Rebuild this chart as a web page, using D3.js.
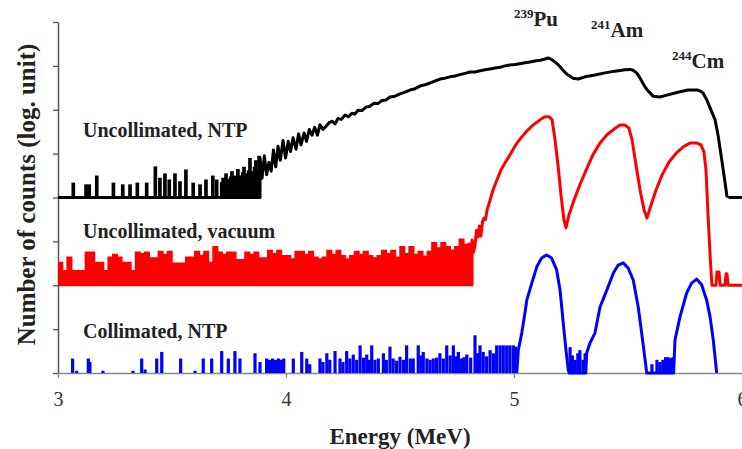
<!DOCTYPE html>
<html><head><meta charset="utf-8">
<script src="https://cdn.jsdelivr.net/npm/d3@7"></script>
<style>body{margin:0;background:#fff}svg{display:block}</style>
</head><body>
<svg id="c" width="742" height="449"></svg>
<script>
// ---------------- data ----------------
const xTicks = [3, 4, 5, 6];
const yTicks = [0, 1, 2, 3, 4, 5, 6, 7, 8];
const seriesNames = ["Uncollimated, NTP", "Uncollimated, vacuum", "Collimated, NTP"];
const seriesColors = ["#000000", "#ff0000", "#0000ff"];
const baselines = [4, 2, 0];
const isotopeSymbols = ["Pu", "Am", "Cm"];
const isotopeMass = ["239", "241", "244"];
const isotopeLabelE = [5.0, 5.338, 5.693];
const isotopeLabelV = [7.91, 7.66, 6.95];

// Uncollimated, NTP : background spikes [energy MeV, height above baseline]
const ntpNoise = [[3.067,0.34],[3.123,0.30],[3.137,0.30],[3.170,0.50],[3.243,0.34],[3.284,0.30],[3.316,0.30],[3.348,0.34],[3.389,0.34],[3.427,0.71],[3.447,0.45],[3.469,0.55],[3.488,0.41],[3.513,0.55],[3.535,0.37],[3.561,0.64],[3.593,0.34],[3.623,0.30],[3.649,0.41],[3.679,0.50],[3.696,0.41],[3.718,0.35],[3.724,0.45],[3.731,0.30],[3.737,0.55],[3.744,0.42],[3.750,0.40],[3.757,0.48],[3.763,0.60],[3.770,0.38],[3.776,0.50],[3.783,0.44],[3.789,0.65],[3.796,0.50],[3.803,0.45],[3.810,0.58],[3.816,0.70],[3.822,0.48],[3.829,0.55],[3.836,0.62],[3.842,0.90],[3.849,0.52],[3.855,0.60],[3.862,0.70],[3.868,0.85],[3.875,0.60],[3.882,0.95]];
// Uncollimated, NTP : spectrum [energy, counts (log units)]
const ntpSignal = [[3.0,4.0],[3.886,4.0],[3.886,4.90],[3.895,4.44],[3.905,4.95],[3.915,4.52],[3.925,4.80],[3.935,4.60],[3.945,5.08],[3.955,4.70],[3.965,5.17],[3.975,4.85],[3.987,5.30],[3.998,4.90],[4.010,5.28],[4.020,5.05],[4.031,5.36],[4.044,5.10],[4.055,5.45],[4.066,5.20],[4.079,5.47],[4.090,5.28],[4.102,5.55],[4.114,5.42],[4.126,5.60],[4.138,5.42],[4.149,5.66],[4.162,5.55],[4.175,5.62],[4.188,5.70],[4.202,5.74],[4.215,5.68],[4.228,5.80],[4.243,5.78],[4.259,5.88],[4.274,5.84],[4.289,5.92],[4.302,5.90],[4.316,5.99],[4.333,5.98],[4.351,6.06],[4.368,6.08],[4.386,6.15],[4.403,6.14],[4.421,6.21],[4.438,6.22],[4.456,6.29],[4.478,6.31],[4.500,6.36],[4.522,6.40],[4.544,6.45],[4.566,6.48],[4.588,6.54],[4.610,6.57],[4.632,6.61],[4.655,6.66],[4.675,6.70],[4.697,6.72],[4.719,6.75],[4.741,6.77],[4.763,6.80],[4.785,6.83],[4.807,6.86],[4.829,6.86],[4.851,6.89],[4.873,6.91],[4.895,6.93],[4.917,6.95],[4.939,6.97],[4.960,7.00],[4.982,7.02],[5.004,7.03],[5.026,7.05],[5.048,7.07],[5.070,7.09],[5.092,7.11],[5.114,7.13],[5.132,7.15],[5.149,7.18],[5.160,7.16],[5.171,7.12],[5.182,7.08],[5.193,7.03],[5.204,6.97],[5.215,6.90],[5.226,6.84],[5.237,6.79],[5.259,6.72],[5.281,6.70],[5.311,6.75],[5.355,6.79],[5.399,6.84],[5.443,6.88],[5.487,6.91],[5.510,6.92],[5.522,6.90],[5.533,6.86],[5.544,6.80],[5.555,6.70],[5.566,6.60],[5.577,6.50],[5.588,6.43],[5.610,6.31],[5.640,6.29],[5.675,6.34],[5.719,6.40],[5.763,6.45],[5.803,6.45],[5.820,6.42],[5.829,6.38],[5.846,6.22],[5.864,5.99],[5.882,5.77],[5.895,5.42],[5.908,4.97],[5.921,4.51],[5.934,4.03],[5.947,4.0],[6.0,4.0]];

// Uncollimated, vacuum : background heights, channels of 0.02 MeV from 3.00 MeV
const vacNoiseStart = 3.0;
const vacNoiseStep = 0.02;
const vacNoise = [0.52,0.33,0.64,0.33,0.33,0.33,0.75,0.75,0.52,0.52,
 0.33,0.64,0.70,0.64,0.52,0.52,0.33,0.75,0.72,0.75,
 0.62,0.62,0.77,0.70,0.77,0.50,0.50,0.50,0.64,0.64,
 0.77,0.68,0.77,0.52,0.88,0.75,0.70,0.75,0.75,0.58,
 0.58,0.75,0.70,0.75,0.62,0.62,0.79,0.72,0.79,0.67,
 0.67,0.60,0.77,0.77,0.70,0.77,0.64,0.60,0.64,0.79,
 0.70,0.79,0.67,0.60,0.67,0.77,0.70,0.77,0.67,0.62,
 0.67,0.79,0.72,0.79,0.64,0.88,0.72,0.88,0.70,0.77,
 0.66,0.77,0.97,0.85,0.97,0.88,0.80,0.88,1.05,0.93,
 0.95];
const vacSignal = [[4.816,2.0],[4.816,3.03],[4.822,2.75],[4.829,2.90],[4.835,3.25],[4.842,3.10],[4.848,3.35],[4.855,3.12],[4.862,3.45],[4.868,3.53],[4.875,3.50],[4.882,3.72],[4.895,3.94],[4.908,4.17],[4.925,4.40],[4.943,4.63],[4.961,4.79],[4.982,4.97],[5.004,5.17],[5.026,5.33],[5.057,5.52],[5.083,5.65],[5.114,5.77],[5.136,5.84],[5.154,5.84],[5.167,5.77],[5.180,5.31],[5.193,4.74],[5.206,4.06],[5.219,3.49],[5.228,3.31],[5.241,3.60],[5.263,3.94],[5.289,4.29],[5.320,4.67],[5.346,4.97],[5.377,5.24],[5.408,5.43],[5.439,5.56],[5.465,5.65],[5.487,5.65],[5.504,5.58],[5.518,5.31],[5.535,4.74],[5.553,4.17],[5.570,3.72],[5.583,3.53],[5.601,3.83],[5.623,4.17],[5.649,4.51],[5.680,4.81],[5.711,5.01],[5.741,5.15],[5.772,5.24],[5.803,5.24],[5.820,5.20],[5.833,5.04],[5.842,4.63],[5.851,3.60],[5.860,2.69],[5.868,2.0],[5.886,2.0],[5.890,2.30],[5.899,2.30],[5.904,2.0],[5.925,2.0],[5.930,2.26],[5.934,2.26],[5.939,2.0],[6.0,2.0]];

// Collimated, NTP : background spikes [energy, height]
const colNoise = [[3.064,0.33],[3.082,0.05],[3.133,0.33],[3.140,0.25],[3.197,0.05],[3.329,0.05],[3.367,0.33],[3.382,0.08],[3.433,0.33],[3.455,0.48],[3.538,0.33],[3.601,0.05],[3.637,0.33],[3.674,0.33],[3.718,0.50],[3.747,0.33],[3.776,0.50],[3.798,0.33],[3.864,0.45],[3.886,0.25],[3.915,0.33],[3.928,0.30],[3.941,0.33],[3.954,0.30],[3.967,0.33],[3.980,0.30],[3.990,0.33],[4.032,0.33],[4.069,0.48],[4.091,0.33],[4.104,0.20],[4.149,0.33],[4.162,0.25],[4.179,0.45],[4.192,0.30],[4.215,0.50],[4.237,0.33],[4.250,0.25],[4.266,0.50],[4.280,0.33],[4.295,0.42],[4.310,0.30],[4.325,0.63],[4.340,0.35],[4.354,0.42],[4.365,0.30],[4.376,0.63],[4.390,0.30],[4.405,0.33],[4.427,0.45],[4.440,0.30],[4.456,0.60],[4.470,0.33],[4.485,0.28],[4.500,0.37],[4.515,0.30],[4.529,0.63],[4.545,0.33],[4.558,0.33],[4.580,0.63],[4.592,0.40],[4.602,0.48],[4.618,0.33],[4.632,0.30],[4.646,0.33],[4.660,0.35],[4.675,0.45],[4.690,0.33],[4.705,0.63],[4.720,0.40],[4.734,0.63],[4.745,0.38],[4.756,0.48],[4.770,0.33],[4.781,0.36],[4.793,0.42],[4.810,0.35],[4.829,0.86],[4.840,0.45],[4.851,0.63],[4.865,0.48],[4.880,0.38],[4.895,0.52],[4.910,0.45],[4.924,0.63],[4.939,0.63],[4.953,0.63],[4.968,0.63],[4.982,0.63],[4.997,0.63],[5.008,0.60],
 [5.246,0.59],[5.256,0.40],[5.268,0.30],[5.280,0.45],[5.289,0.52],[5.303,0.30],[5.312,0.45],
 [5.605,0.20],[5.627,0.30],[5.640,0.25],[5.653,0.30],[5.665,0.36],[5.676,0.36],[5.687,0.34],[5.697,0.36]];
const colSignal = [[5.012,0.0],[5.019,0.52],[5.034,0.91],[5.048,1.37],[5.056,1.66],[5.078,2.05],[5.100,2.42],[5.121,2.62],[5.143,2.69],[5.165,2.62],[5.187,2.35],[5.202,1.89],[5.216,1.14],[5.228,0.52],[5.238,0.07],[5.242,0.0],[5.315,0.0],[5.319,0.46],[5.333,0.68],[5.355,0.91],[5.377,1.50],[5.407,1.89],[5.436,2.28],[5.457,2.46],[5.479,2.51],[5.501,2.39],[5.523,2.12],[5.545,1.50],[5.560,0.91],[5.575,0.30],[5.582,0.0],[5.700,0.0],[5.706,0.75],[5.728,1.28],[5.757,1.82],[5.779,2.05],[5.801,2.14],[5.823,2.01],[5.845,1.66],[5.860,1.28],[5.874,0.75],[5.889,0.0]];

// ---------------- drawing ----------------
const svg = d3.select("#c");
const serif = "'Liberation Serif','Times New Roman',Times,serif";
const x = d3.scaleLinear().domain([3, 6]).range([58, 742]);
const y = d3.scaleLinear().domain([0, 8]).range([373, 22]);

// axes
const gy = svg.append("g").attr("transform", `translate(${x(3)},0)`)
  .call(d3.axisLeft(y).tickValues(yTicks).tickSize(5).tickSizeOuter(0).tickFormat(""));
gy.select(".domain").attr("stroke", "#555").attr("stroke-width", 1.5);
gy.selectAll(".tick line").attr("stroke", "#555").attr("stroke-width", 1.3);

const gx = svg.append("g").attr("transform", `translate(0,${y(0)})`)
  .attr("font-family", serif)
  .call(d3.axisBottom(x).tickValues(xTicks).tickSize(5).tickSizeOuter(0).tickPadding(14).tickFormat(d3.format("d")));
gx.attr("font-family", serif);
gx.select(".domain").attr("stroke", "#888").attr("stroke-width", 1.3);
gx.selectAll(".tick line").attr("stroke", "#888").attr("stroke-width", 1.3);
gx.selectAll(".tick text").style("font-family", serif).attr("font-size", 20).attr("fill", "#333");

const line = d3.line().x(d => x(d[0])).y(d => y(d[1]));

function spikes(g, data, base, color, w) {
  const pw = x(3 + w) - x(3);
  g.selectAll(null).data(data).enter().append("rect")
    .attr("x", d => x(d[0]) - pw / 2)
    .attr("width", pw)
    .attr("y", d => y(base + d[1]))
    .attr("height", d => y(base) - y(base + d[1]))
    .attr("fill", color);
}

// vacuum background (filled step envelope)
const vacPts = vacNoise.map((v, i) => [vacNoiseStart + i * vacNoiseStep, baselines[1] + v]);
vacPts.push([vacNoiseStart + vacNoise.length * vacNoiseStep, baselines[1] + vacNoise[vacNoise.length - 1]]);
svg.append("path").datum(vacPts)
  .attr("d", d3.area().curve(d3.curveStepAfter).x(d => x(d[0])).y0(y(baselines[1])).y1(d => y(d[1])))
  .attr("fill", seriesColors[1]);
svg.append("path").datum(vacPts)
  .attr("d", d3.line().curve(d3.curveStepAfter).x(d => x(d[0])).y(d => y(d[1])))
  .attr("fill", "none").attr("stroke", seriesColors[1]).attr("stroke-width", 1.5);
svg.append("path").datum([[3.0, baselines[1]], [4.82, baselines[1]]]).attr("d", line)
  .attr("fill", "none").attr("stroke", seriesColors[1]).attr("stroke-width", 2);
svg.append("path").datum(vacSignal).attr("d", line)
  .attr("fill", "none").attr("stroke", seriesColors[1]).attr("stroke-width", 3).attr("stroke-linejoin", "round");

// collimated
const gb = svg.append("g");
spikes(gb, colNoise, baselines[2], seriesColors[2], 0.014);
svg.append("path").datum(colSignal).attr("d", line)
  .attr("fill", "none").attr("stroke", seriesColors[2]).attr("stroke-width", 3).attr("stroke-linejoin", "round");

// uncollimated NTP
const gk = svg.append("g");
spikes(gk, ntpNoise, baselines[0], seriesColors[0], 0.016);
svg.append("path").datum(ntpSignal).attr("d", line)
  .attr("fill", "none").attr("stroke", seriesColors[0]).attr("stroke-width", 3).attr("stroke-linejoin", "round");

// series labels
const labelY = [137, 238, 338];
seriesNames.forEach((n, i) => {
  svg.append("text").attr("x", 83).attr("y", labelY[i]).text(n)
    .attr("font-family", serif).attr("font-weight", "bold").attr("font-size", 20).attr("fill", "#222");
});

// isotope labels
isotopeSymbols.forEach((s, i) => {
  const t = svg.append("text").attr("x", x(isotopeLabelE[i])).attr("y", y(isotopeLabelV[i]))
    .attr("font-family", serif).attr("font-weight", "bold").attr("fill", "#222");
  t.append("tspan").attr("font-size", 13).attr("dy", -8).text(isotopeMass[i]);
  t.append("tspan").attr("font-size", 21).attr("dy", 8).text(s);
});

// axis titles
svg.append("text").attr("transform", `translate(35,${(22 + 373) / 2 - 3}) rotate(-90)`)
  .attr("text-anchor", "middle").attr("font-family", serif).attr("font-weight", "bold")
  .attr("font-size", 25).attr("fill", "#222").text("Number of counts (log. unit)");
svg.append("text").attr("x", 400).attr("y", 444).attr("text-anchor", "middle")
  .attr("font-family", serif).attr("font-weight", "bold").attr("font-size", 23).attr("fill", "#222")
  .text("Energy (MeV)");
</script>
</body></html>
